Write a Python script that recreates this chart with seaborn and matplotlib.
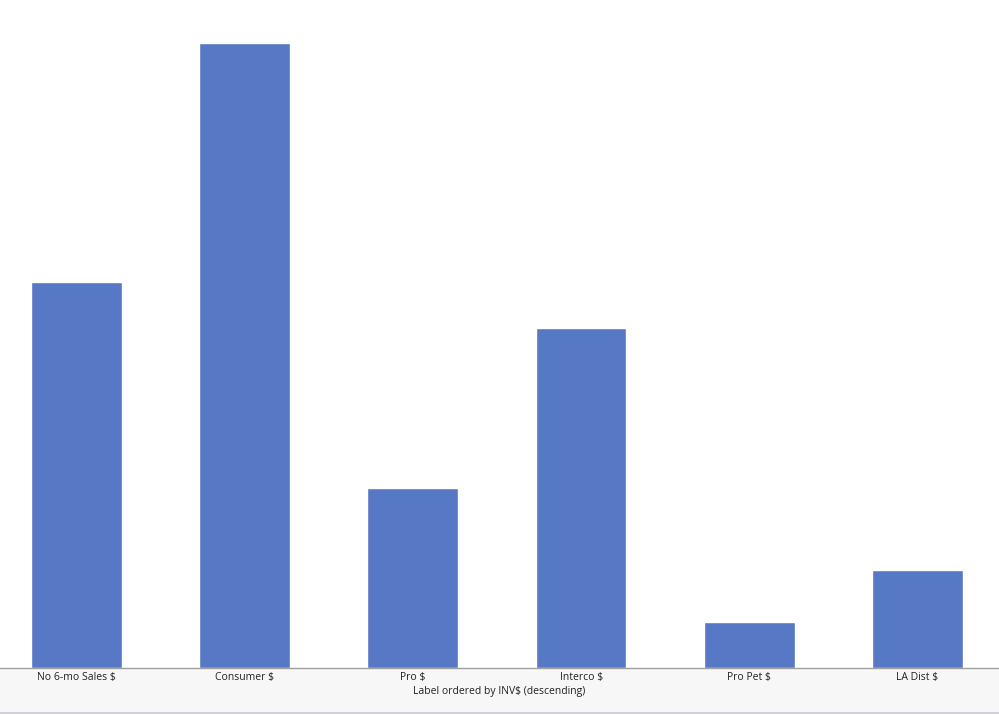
import matplotlib
matplotlib.use("Agg")
import matplotlib.pyplot as plt
import seaborn as sns
import pandas as pd
from matplotlib.patches import Rectangle

sns.set_style("white")
plt.rcParams["font.family"] = ["Open Sans", "DejaVu Sans"]

# data (no y scale shown, relative units)
labels = ["No 6-mo Sales $", "Consumer $", "Pro $", "Interco $", "Pro Pet $", "LA Dist $"]
values = [386, 625, 180, 340, 46, 98]

df = pd.DataFrame({"Label": labels, "INV": values})

fig = plt.figure(figsize=(9.99, 7.15), dpi=100)

# grey band behind the x labels
band = Rectangle((0, 2 / 715), 1, 45 / 715, transform=fig.transFigure,
                 facecolor="#f7f7f7", edgecolor="none", zorder=-5)
fig.patches.append(band)
fig.add_artist(plt.Line2D([0, 1], [2 / 715, 2 / 715], transform=fig.transFigure,
                          color="#c5c8dc", linewidth=1.2, zorder=-4))

ax = fig.add_axes([0, 47 / 715, 1, 668 / 715])
ax.set_zorder(2)
ax.patch.set_alpha(0)
sns.barplot(data=df, x="Label", y="INV", color="#5778c4", saturation=1,
            width=0.54, ax=ax)

ax.set_ylim(0, 668)
ax.set_xlim(-0.455, 5.485)
ax.set_yticks([])
ax.set_ylabel("")
ax.set_xlabel("Label ordered by INV$ (descending)", fontsize=7.5, color="#222222",
              labelpad=2)
ax.tick_params(axis="x", length=0, labelsize=7.5, labelcolor="#222222", pad=3)
for side in ["top", "left", "right"]:
    ax.spines[side].set_visible(False)
ax.spines["bottom"].set_color("#a0a0a0")
ax.spines["bottom"].set_linewidth(1)

fig.savefig("out.png", dpi=100)
